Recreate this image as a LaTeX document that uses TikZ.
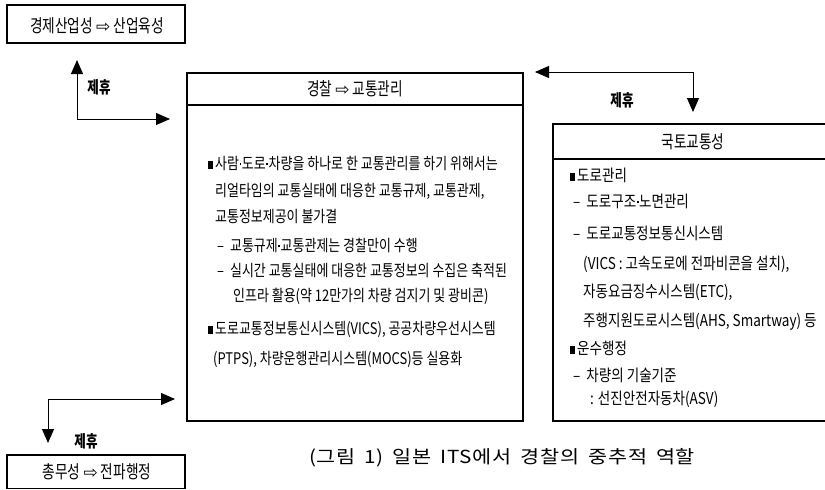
\documentclass[tikz,border=0pt]{standalone}
\usepackage{fontspec}
\usetikzlibrary{arrows.meta}
\newfontfamily\kb[FakeStretch=0.81]{Noto Sans CJK KR}
\newfontfamily\kr[FakeStretch=0.83]{Noto Sans CJK KR}
\newfontfamily\kh[FakeStretch=0.76]{Noto Sans CJK KR}
\newfontfamily\kc[FakeStretch=1.15,LetterSpace=4,WordSpace=1.7]{Noto Sans CJK KR}
\newfontfamily\symf{DejaVu Sans}
\newcommand{\bul}{\rule[0.5pt]{4.5pt}{8pt}\hspace{2.5pt}}
\newcommand{\dsh}{–\hspace{6pt}}
\newcommand{\md}{\hspace{0.6pt}\raisebox{4.5pt}{\rule{1.7pt}{1.7pt}}\hspace{0.6pt}}
\newcommand{\rarr}{{\symf\fontsize{17}{17}\selectfont ⇨}}
\tikzset{
  box/.style={draw, line width=1.2pt},
  ln/.style={anchor=west, inner sep=0pt, text height=11pt, text depth=3pt, font=\kb\fontsize{16}{18}\selectfont},
  rn/.style={anchor=west, inner sep=0pt, text height=11pt, text depth=3pt, font=\kr\fontsize{16.3}{18}\selectfont},
  hd/.style={inner sep=0pt, font=\kh\fontsize{18}{20}\selectfont},
  lab/.style={inner sep=0pt, font=\kh\bfseries\fontsize{16.5}{18}\selectfont},
  arr/.style={line width=1pt, -{Triangle[length=14pt,width=12pt]}},
}
\begin{document}
\begin{tikzpicture}[x=1pt,y=-1pt]
\useasboundingbox (0,0) rectangle (825,490);
% boxes
\draw[box] (7,5) rectangle (185,43);
\draw[box] (7,455) rectangle (185,488.5);
\draw[box] (187,73) rectangle (523,421);
\draw[line width=1.6pt] (187,105) -- (523,105);
\draw[line width=1.6pt] (827,124) -- (553,124) -- (553,421) -- (827,421);
\draw[line width=1.4pt] (553,159) -- (827,159);
% headers
\node[hd] (h1) at (97,26) {경제산업성 \rarr{} 산업육성};
\node[hd] (h2) at (355,89) {경찰 \rarr{} 교통관리};
\node[hd] (h3) at (693,142) {국토교통성};
\node[hd] (h4) at (97,472) {총무성 \rarr{} 전파행정};
% central box text
\node[ln] (l1) at (208,165) {\bul 사람\md 도로\md 차량을 하나로 한 교통관리를 하기 위해서는};
\node[ln] (l2) at (215,192) {리얼타임의 교통실태에 대응한 교통규제, 교통관제,};
\node[ln] (l3) at (215,218) {교통정보제공이 불가결};
\node[ln] (l4) at (217,247) {\dsh 교통규제\md 교통관제는 경찰만이 수행};
\node[ln] (l5) at (217,272) {\dsh 실시간 교통실태에 대응한 교통정보의 수집은 축적된};
\node[ln] (l6) at (233,297) {인프라 활용(약 12만가의 차량 검지기 및 광비콘)};
\node[ln] (l7) at (208,330) {\bul 도로교통정보통신시스템(VICS), 공공차량우선시스템};
\node[ln] (l8) at (213,360) {(PTPS), 차량운행관리시스템(MOCS)등 실용화};
% right box text
\node[rn] (r1) at (570,177) {\bul 도로관리};
\node[rn] (r2) at (573,203) {\dsh 도로구조\md 노면관리};
\node[rn] (r3) at (573,235) {\dsh 도로교통정보통신시스템};
\node[rn] (r4) at (583,265) {(VICS : 고속도로에 전파비콘을 설치),};
\node[rn] (r5) at (583,293) {자동요금징수시스템(ETC),};
\node[rn] (r6) at (583,322) {주행지원도로시스템(AHS, Smartway) 등};
\node[rn] (r7) at (570,350) {\bul 운수행정};
\node[rn] (r8) at (573,377) {\dsh 차량의 기술기준};
\node[rn] (r9) at (590,400) {: 선진안전자동차(ASV)};
% connectors
\coordinate (a1c) at (77,119);
\coordinate (a1u) at (77,60);
\coordinate (a1r) at (170,119);
\draw[arr] (a1c) -- (a1u);
\draw[arr] (a1c) -- (a1r);
\coordinate (a2c) at (693,72);
\coordinate (a2l) at (535,72);
\coordinate (a2d) at (693,112);
\draw[arr] (a2c) -- (a2l);
\draw[arr] (a2c) -- (a2d);
\coordinate (a3c) at (48,399);
\coordinate (a3r) at (175,399);
\coordinate (a3d) at (48,443);
\draw[arr] (a3c) -- (a3r);
\draw[arr] (a3c) -- (a3d);
\node[lab] (t1) at (99,87) {제휴};
\node[lab] (t2) at (622,100) {제휴};
\node[lab] (t3) at (86,441) {제휴};
% caption
\node[inner sep=0pt, font=\kc\fontsize{18}{20}\selectfont] (cap) at (502,458) {(그림 1) 일본 ITS에서 경찰의 중추적 역할};
\end{tikzpicture}
\end{document}
